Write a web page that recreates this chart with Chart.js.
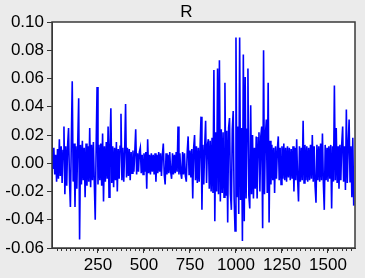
<!DOCTYPE html>
<html>
<head>
<meta charset="utf-8">
<script src="https://cdn.jsdelivr.net/npm/chart.js@4.4.1/dist/chart.umd.min.js"></script>
<style>
  html, body { margin: 0; padding: 0; background: #ebebeb; }
  #wrap { width: 365px; height: 278px; }
</style>
</head>
<body>
<div id="wrap"><canvas id="myChart" width="365" height="278"></canvas></div>
<script>
// series title
const seriesName = 'R';
// one reading every 5 observations, observation 0 .. 1640
const obsStep = 5;
const rValues = [
  .008, -.004, .011, -.008, .006, -.013, .010, -.011, .017, -.009,
  .012, -.014, .009, .026, -.022, .012, -.016, .013, .025, -.012,
  -.031, .015, .058, -.013, .014, -.031, .012, -.018, .015, .046,
  -.054, .013, -.015, .016, -.012, .011, -.024, .014, -.016, .012,
  -.013, .025, -.017, .013, -.012, .015, -.014, -.040, .012, .054,
  -.015, .013, -.012, .014, -.016, .021, -.027, .012, -.013, .015,
  -.011, .026, -.024, .013, .039, -.014, .012, -.017, .011, -.012,
  .015, -.020, .010, -.011, .012, .035, -.012, .011, -.013, .009,
  .042, -.010, .011, -.009, .010, -.012, .008, -.007, .009, -.006,
  .008, .024, -.008, .007, -.006, .008, .011, -.007, .006, -.008,
  .007, -.006, .008, -.018, .017, -.007, .006, -.008, .007, -.006,
  .006, -.008, .007, -.013, .006, -.007, .008, -.006, .007, -.009,
  .006, .014, -.008, -.015, .007, -.008, .006, -.007, .008, -.006,
  -.011, .007, -.008, .006, -.007, .008, -.006, .026, -.008, .007,
  -.007, -.011, .008, -.008, .007, -.009, -.013, .008, .019, -.008,
  .009, -.010, .010, -.025, .011, .020, -.012, .012, -.014, .011,
  -.013, .012, .033, -.033, .013, -.015, .012, .030, -.014, .013,
  .017, -.018, .016, -.020, .018, -.021, .066, -.041, .022, -.020,
  .067, -.022, .073, -.027, .024, -.021, .022, -.024, .057, -.023,
  .023, -.042, .025, .032, -.022, -.033, .024, .037, -.025, -.048,
  .089, -.024, .026, -.036, .089, -.026, .025, -.055, .077, -.041,
  .061, -.025, .024, .067, -.023, -.032, .041, -.022, .020, -.025,
  .011, -.018, .019, -.025, .018, .022, -.020, .019, .026, -.046,
  .080, -.022, .020, .031, -.021, .057, -.042, .016, -.015, .013,
  -.012, .011, -.021, .012, -.011, .010, .019, -.012, .011, -.015,
  .012, -.011, .014, -.012, .011, -.013, .012, -.010, .011, -.012,
  .010, -.011, .012, -.020, .011, -.012, .017, -.011, -.027, .012,
  -.013, .011, -.012, .030, -.014, .013, -.012, .012, -.013, .011,
  -.012, .013, -.011, .020, -.013, .012, -.016, -.028, .013, -.012,
  .012, -.013, .014, -.012, .021, -.014, -.033, .013, -.012, .011,
  -.013, .012, -.011, .013, -.032, .012, -.013, .055, -.012, .025,
  -.014, .012, -.018, .013, -.012, .014, .026, -.013, .012, -.019,
  .038, -.014, .013, .031, -.013, .012, -.024, .018, -.030
];
const xRange = [0, 1647];
const xTickLabels = [250, 500, 750, 1000, 1250, 1500];
const xMinorStep = 25;
const yTickValues = [-0.06, -0.04, -0.02, 0.00, 0.02, 0.04, 0.06, 0.08, 0.10];

const points = rValues.map((v, i) => ({ x: i * obsStep, y: v }));

const FONT = '"Liberation Sans", Arial, sans-serif';

// gray page + white plot frame
const framePlugin = {
  id: 'frame',
  beforeDraw(chart) {
    const { ctx, chartArea: a } = chart;
    ctx.save();
    ctx.fillStyle = '#ebebeb';
    ctx.fillRect(0, 0, chart.width, chart.height);
    ctx.fillStyle = '#ffffff';
    ctx.fillRect(a.left, a.top, a.right - a.left, a.bottom - a.top);
    ctx.restore();
  },
  afterDraw(chart) {
    const { ctx, chartArea: a } = chart;
    const xs = chart.scales.x;
    ctx.save();
    // minor ticks on the x axis
    ctx.strokeStyle = '#333333';
    ctx.lineWidth = 1;
    ctx.beginPath();
    for (let v = xMinorStep; v < xRange[1]; v += xMinorStep) {
      const px = Math.round(xs.getPixelForValue(v)) + 0.5;
      ctx.moveTo(px, a.bottom);
      ctx.lineTo(px, a.bottom + 3);
    }
    ctx.stroke();
    // box round the plot
    ctx.strokeStyle = '#3a3a3a';
    ctx.lineWidth = 1.5;
    ctx.strokeRect(a.left, a.top, a.right - a.left, a.bottom - a.top);
    // title
    ctx.fillStyle = '#000000';
    ctx.font = '17px ' + FONT;
    ctx.textAlign = 'center';
    ctx.textBaseline = 'middle';
    ctx.fillText(seriesName, chart.width / 2 + 4, 12);
    ctx.restore();
  }
};

var ctx = document.getElementById('myChart').getContext('2d');
var myChart = new Chart(ctx, {
  type: 'line',
  data: {
    datasets: [{
      label: seriesName,
      data: points,
      borderColor: '#0000ff',
      borderWidth: 1.6,
      pointRadius: 0,
      tension: 0,
      fill: false
    }]
  },
  options: {
    responsive: false,
    animation: false,
    events: [],
    layout: { padding: { top: 22, right: 10, left: 0, bottom: 0 } },
    plugins: {
      legend: { display: false },
      title: { display: false },
      tooltip: { enabled: false }
    },
    scales: {
      x: {
        type: 'linear',
        min: xRange[0],
        max: xRange[1],
        afterBuildTicks: s => { s.ticks = xTickLabels.map(v => ({ value: v })); },
        afterFit: s => { s.height = 30; },
        grid: { display: true, drawOnChartArea: false, tickLength: 5, color: '#333333' },
        border: { display: true, color: '#333333', width: 1 },
        ticks: {
          autoSkip: false,
          maxRotation: 0,
          padding: 2,
          color: '#000000',
          font: { family: FONT, size: 17 },
          callback: v => String(v)
        }
      },
      y: {
        min: -0.06,
        max: 0.10,
        afterBuildTicks: s => { s.ticks = yTickValues.map(v => ({ value: v })); },
        afterFit: s => { s.width = 52; },
        grid: { display: true, drawOnChartArea: false, tickLength: 5, color: '#333333' },
        border: { display: true, color: '#333333', width: 1 },
        ticks: {
          padding: 3,
          color: '#000000',
          font: { family: FONT, size: 17 },
          callback: v => Number(v).toFixed(2)
        }
      }
    }
  },
  plugins: [framePlugin]
});
</script>
</body>
</html>
